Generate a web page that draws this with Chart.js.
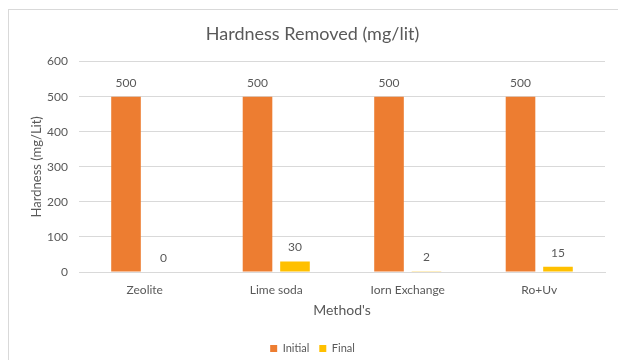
<!DOCTYPE html>
<html>
<head>
<meta charset="utf-8">
<script src="https://cdn.jsdelivr.net/npm/chart.js@4"></script>
<style>
  body { margin: 0; background: #fff; overflow: hidden; }
  #frame { position: absolute; left: 8px; top: 9px; width: 640px; height: 400px; border: 1px solid #d9d9d9; }
  #wrap { position: absolute; left: 0; top: 0; width: 618px; height: 364px; }
</style>
</head>
<body>
<div id="frame"></div>
<div id="wrap"><canvas id="myChart" width="618" height="364"></canvas></div>
<script>
const methods = ['Zeolite', 'Lime soda', 'Iorn Exchange', 'Ro+Uv'];
const initialValues = [500, 500, 500, 500];
const finalValues = [0, 30, 2, 15];
const yTicks = [0, 100, 200, 300, 400, 500, 600];

const gray = '#595959';
const fontName = 'Lato, "Open Sans", sans-serif';

// draws the value above each bar
const valueLabels = {
  id: 'valueLabels',
  afterDatasetsDraw(chart) {
    const ctx = chart.ctx;
    ctx.save();
    ctx.font = '12px ' + fontName;
    ctx.fillStyle = gray;
    ctx.textAlign = 'center';
    ctx.textBaseline = 'middle';
    chart.data.datasets.forEach((ds, i) => {
      chart.getDatasetMeta(i).data.forEach((bar, j) => {
        ctx.fillText(ds.data[j], bar.x, bar.y - 14);
      });
    });
    ctx.restore();
  }
};

const data = {
  labels: methods,
  datasets: [{
    label: 'Initial',
    data: initialValues,
    backgroundColor: '#ED7D31',
    categoryPercentage: 0.57,
    barPercentage: 0.79
  }, {
    label: 'Final',
    data: finalValues,
    backgroundColor: '#FFC000',
    categoryPercentage: 0.57,
    barPercentage: 0.79
  }]
};

const config = {
  type: 'bar',
  data,
  plugins: [valueLabels],
  options: {
    responsive: false,
    animation: false,
    layout: { padding: { left: 20, right: 13, top: 10, bottom: 0 } },
    plugins: {
      title: {
        display: true,
        text: 'Hardness Removed (mg/lit)',
        color: gray,
        font: { family: fontName, size: 18, weight: 'normal' },
        padding: { top: 13, bottom: 17 }
      },
      legend: {
        position: 'bottom',
        labels: {
          color: gray,
          font: { family: fontName, size: 11 },
          boxWidth: 7,
          boxHeight: 7,
          padding: 10
        }
      },
      tooltip: { enabled: false }
    },
    scales: {
      x: {
        grid: { display: false },
        border: { color: '#d9d9d9' },
        ticks: { color: gray, font: { family: fontName, size: 12 }, padding: 3 },
        title: {
          display: true,
          text: "Method's",
          color: gray,
          font: { family: fontName, size: 14 },
          padding: { top: 0, bottom: 14 }
        },
        afterFit(scale) { scale.height = 61; }
      },
      y: {
        min: 0,
        max: 600,
        afterBuildTicks(scale) { scale.ticks = yTicks.map(v => ({ value: v })); },
        grid: { color: '#d9d9d9', drawTicks: false },
        border: { display: false },
        ticks: { color: gray, font: { family: fontName, size: 12 }, padding: 11 },
        title: {
          display: true,
          text: 'Hardness (mg/Lit)',
          color: gray,
          font: { family: fontName, size: 13 },
          padding: { top: 9, bottom: 0 }
        },
        afterFit(scale) { scale.width = 59; }
      }
    }
  }
};

const myChart = new Chart(document.getElementById('myChart'), config);
</script>
</body>
</html>
